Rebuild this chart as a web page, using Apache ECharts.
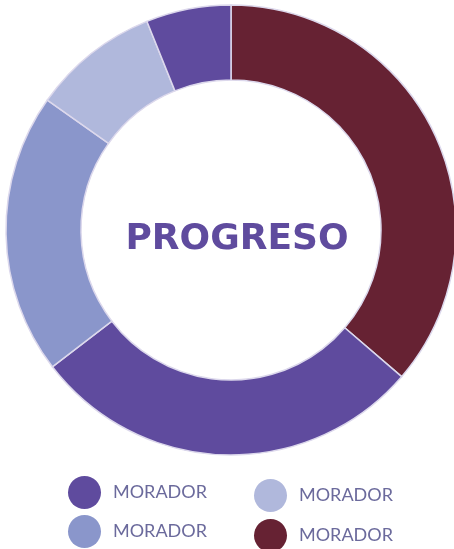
<!DOCTYPE html>
<html>
<head>
<meta charset="utf-8">
<script src="https://cdn.jsdelivr.net/npm/echarts@6/dist/echarts.min.js"></script>
<style>
  html, body { margin: 0; padding: 0; background: #fff; }
  #chart { width: 454px; height: 549px; }
</style>
</head>
<body>
<div id="chart"></div>
<script>
// slices, clockwise from 12 o'clock
const sliceNames = ['m4', 'm1', 'm2', 'm3', 'm5'];
const sliceValues = [36.3, 28.3, 20.2, 9.1, 6.1];
const sliceColors = ['#662233', '#5f4b9e', '#8a96cb', '#b0b8dc', '#5f4b9e'];
// legend entries
const legendNames = ['m1', 'm2', 'm3', 'm4'];
const legendLabel = 'MORADOR';
const centerTitle = 'PROGRESO';

const legendPos = [[68, 476], [68, 515], [254, 479], [254, 519]];

const chart = echarts.init(document.getElementById('chart'));

const legends = legendNames.map((n, i) => ({
  left: legendPos[i][0],
  top: legendPos[i][1],
  icon: 'circle',
  itemWidth: 33,
  itemHeight: 33,
  padding: 0,
  selectedMode: false,
  data: [n],
  itemStyle: { borderWidth: 0 },
  formatter: () => legendLabel,
  textStyle: {
    color: '#6b6a9c',
    fontSize: 18,
    fontFamily: 'Lato',
    padding: [7, 0, 0, 7]
  }
}));

chart.setOption({
  animation: false,
  title: {
    text: centerTitle,
    left: 232,
    top: 235,
    textAlign: 'center',
    textVerticalAlign: 'middle',
    textStyle: {
      color: '#5f4b9e',
      fontSize: 36,
      fontWeight: 'bold',
      fontFamily: 'DejaVu Sans'
    }
  },
  legend: legends,
  series: [{
    type: 'pie',
    center: [231, 230],
    radius: [150, 225],
    startAngle: 90,
    clockwise: true,
    label: { show: false },
    labelLine: { show: false },
    emphasis: { disabled: true },
    itemStyle: {
      borderColor: '#dcd8ec',
      borderWidth: 1.5
    },
    data: sliceNames.map((n, i) => ({
      name: n,
      value: sliceValues[i],
      itemStyle: { color: sliceColors[i] }
    }))
  }]
});
</script>
</body>
</html>
